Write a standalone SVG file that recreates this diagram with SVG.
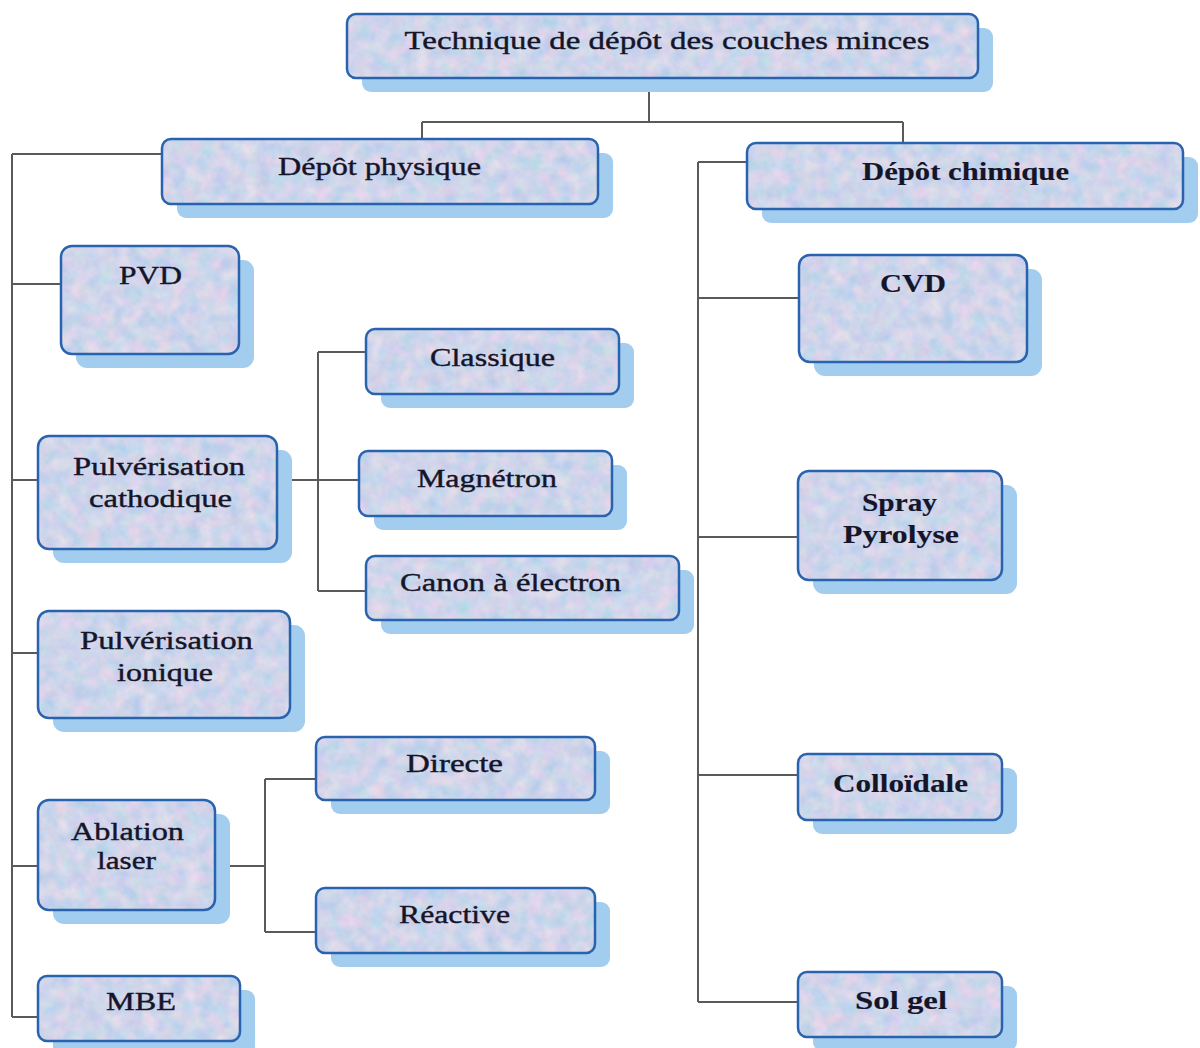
<svg xmlns="http://www.w3.org/2000/svg" width="1200" height="1048" viewBox="0 0 1200 1048">
<style>
.sh{fill:#a3cdef;}
.bg{fill:#cdd9ee;filter:url(#tex);}
.bd{fill:none;stroke:#2a63ad;stroke-width:2.5;}
.t{font-family:"Liberation Serif","Times New Roman",serif;font-size:26px;fill:#15152a;stroke:#15152a;stroke-width:0.4;text-anchor:middle;}
.tb{font-weight:bold;stroke-width:0.15;}
.c{fill:none;stroke:#5a5a5a;stroke-width:2;}
</style>
<defs>
<filter id="tex" x="0" y="0" width="100%" height="100%" color-interpolation-filters="sRGB">
<feTurbulence type="fractalNoise" baseFrequency="0.07" numOctaves="3" seed="7" result="n"/>
<feColorMatrix in="n" type="matrix" values="0.3 0 0 0 0.66  0.05 0.1 0 0 0.76  0 0 0.06 0 0.89  0 0 0 0 1" result="c"/>
<feComposite in="c" in2="SourceGraphic" operator="in"/>
</filter>
</defs>
<rect width="1200" height="1048" fill="#ffffff"/>
<g id="connectors">
<path class="c" d="M649 78V122M422 122H903M422 122V139M903 122V143"/>
<path class="c" d="M12 154V1017M12 154H162M12 284H61M12 480H38M12 653H38M12 866H38M12 1017H38"/>
<path class="c" d="M277 480H359M318 352V591M318 352H366M318 591H366"/>
<path class="c" d="M215 866H265M265 779V932M265 779H316M265 932H316"/>
<path class="c" d="M698 162V1002M698 162H747M698 298H799M698 537H798M698 775H798M698 1002H798"/>
</g>
<g id="root">
<rect class="sh" x="362" y="28" width="631" height="64" rx="9"/>
<rect class="bg" x="347" y="14" width="631" height="64" rx="9"/>
<rect class="bd" x="347" y="14" width="631" height="64" rx="9"/>
<text class="t" x="667" y="49" textLength="525" lengthAdjust="spacingAndGlyphs">Technique de dépôt des couches minces</text>
</g>
<g id="physique">
<rect class="sh" x="177" y="153" width="436" height="65" rx="9"/>
<rect class="bg" x="162" y="139" width="436" height="65" rx="9"/>
<rect class="bd" x="162" y="139" width="436" height="65" rx="9"/>
<text class="t" x="379.5" y="175" textLength="203" lengthAdjust="spacingAndGlyphs">Dépôt physique</text>
</g>
<g id="chimique">
<rect class="sh" x="762" y="157" width="436" height="66" rx="9"/>
<rect class="bg" x="747" y="143" width="436" height="66" rx="9"/>
<rect class="bd" x="747" y="143" width="436" height="66" rx="9"/>
<text class="t tb" x="965.5" y="180" textLength="207" lengthAdjust="spacingAndGlyphs">Dépôt chimique</text>
</g>
<g id="pvd">
<rect class="sh" x="76" y="260" width="178" height="108" rx="11"/>
<rect class="bg" x="61" y="246" width="178" height="108" rx="11"/>
<rect class="bd" x="61" y="246" width="178" height="108" rx="11"/>
<text class="t" x="150.5" y="284" textLength="63" lengthAdjust="spacingAndGlyphs">PVD</text>
</g>
<g id="classique">
<rect class="sh" x="381" y="343" width="253" height="65" rx="9"/>
<rect class="bg" x="366" y="329" width="253" height="65" rx="9"/>
<rect class="bd" x="366" y="329" width="253" height="65" rx="9"/>
<text class="t" x="492.5" y="366" textLength="125" lengthAdjust="spacingAndGlyphs">Classique</text>
</g>
<g id="pulv_cathodique">
<rect class="sh" x="53" y="450" width="239" height="113" rx="11"/>
<rect class="bg" x="38" y="436" width="239" height="113" rx="11"/>
<rect class="bd" x="38" y="436" width="239" height="113" rx="11"/>
<text class="t" x="159" y="475" textLength="172" lengthAdjust="spacingAndGlyphs">Pulvérisation</text>
<text class="t" x="160.5" y="507" textLength="143" lengthAdjust="spacingAndGlyphs">cathodique</text>
</g>
<g id="magnetron">
<rect class="sh" x="374" y="465" width="253" height="65" rx="9"/>
<rect class="bg" x="359" y="451" width="253" height="65" rx="9"/>
<rect class="bd" x="359" y="451" width="253" height="65" rx="9"/>
<text class="t" x="487" y="487" textLength="140" lengthAdjust="spacingAndGlyphs">Magnétron</text>
</g>
<g id="canon">
<rect class="sh" x="381" y="570" width="313" height="64" rx="9"/>
<rect class="bg" x="366" y="556" width="313" height="64" rx="9"/>
<rect class="bd" x="366" y="556" width="313" height="64" rx="9"/>
<text class="t" x="510.5" y="591" textLength="221" lengthAdjust="spacingAndGlyphs">Canon à électron</text>
</g>
<g id="pulv_ionique">
<rect class="sh" x="53" y="625" width="252" height="107" rx="11"/>
<rect class="bg" x="38" y="611" width="252" height="107" rx="11"/>
<rect class="bd" x="38" y="611" width="252" height="107" rx="11"/>
<text class="t" x="166.5" y="649" textLength="173" lengthAdjust="spacingAndGlyphs">Pulvérisation</text>
<text class="t" x="165" y="681" textLength="96" lengthAdjust="spacingAndGlyphs">ionique</text>
</g>
<g id="directe">
<rect class="sh" x="331" y="751" width="279" height="63" rx="9"/>
<rect class="bg" x="316" y="737" width="279" height="63" rx="9"/>
<rect class="bd" x="316" y="737" width="279" height="63" rx="9"/>
<text class="t" x="454.5" y="772" textLength="97" lengthAdjust="spacingAndGlyphs">Directe</text>
</g>
<g id="ablation">
<rect class="sh" x="53" y="814" width="177" height="110" rx="11"/>
<rect class="bg" x="38" y="800" width="177" height="110" rx="11"/>
<rect class="bd" x="38" y="800" width="177" height="110" rx="11"/>
<text class="t" x="127.5" y="840" textLength="113" lengthAdjust="spacingAndGlyphs">Ablation</text>
<text class="t" x="126.5" y="869" textLength="59" lengthAdjust="spacingAndGlyphs">laser</text>
</g>
<g id="reactive">
<rect class="sh" x="331" y="902" width="279" height="65" rx="9"/>
<rect class="bg" x="316" y="888" width="279" height="65" rx="9"/>
<rect class="bd" x="316" y="888" width="279" height="65" rx="9"/>
<text class="t" x="454.5" y="923" textLength="111" lengthAdjust="spacingAndGlyphs">Réactive</text>
</g>
<g id="mbe">
<rect class="sh" x="53" y="990" width="202" height="65" rx="9"/>
<rect class="bg" x="38" y="976" width="202" height="65" rx="9"/>
<rect class="bd" x="38" y="976" width="202" height="65" rx="9"/>
<text class="t" x="141" y="1010" textLength="70" lengthAdjust="spacingAndGlyphs">MBE</text>
</g>
<g id="cvd">
<rect class="sh" x="814" y="269" width="228" height="107" rx="11"/>
<rect class="bg" x="799" y="255" width="228" height="107" rx="11"/>
<rect class="bd" x="799" y="255" width="228" height="107" rx="11"/>
<text class="t tb" x="913" y="292" textLength="66" lengthAdjust="spacingAndGlyphs">CVD</text>
</g>
<g id="spray">
<rect class="sh" x="813" y="485" width="204" height="109" rx="11"/>
<rect class="bg" x="798" y="471" width="204" height="109" rx="11"/>
<rect class="bd" x="798" y="471" width="204" height="109" rx="11"/>
<text class="t tb" x="899.5" y="511" textLength="75" lengthAdjust="spacingAndGlyphs">Spray</text>
<text class="t tb" x="901" y="543" textLength="116" lengthAdjust="spacingAndGlyphs">Pyrolyse</text>
</g>
<g id="colloidale">
<rect class="sh" x="813" y="768" width="204" height="66" rx="9"/>
<rect class="bg" x="798" y="754" width="204" height="66" rx="9"/>
<rect class="bd" x="798" y="754" width="204" height="66" rx="9"/>
<text class="t tb" x="900.5" y="792" textLength="135" lengthAdjust="spacingAndGlyphs">Colloïdale</text>
</g>
<g id="solgel">
<rect class="sh" x="813" y="986" width="204" height="65" rx="9"/>
<rect class="bg" x="798" y="972" width="204" height="65" rx="9"/>
<rect class="bd" x="798" y="972" width="204" height="65" rx="9"/>
<text class="t tb" x="901" y="1009" textLength="92" lengthAdjust="spacingAndGlyphs">Sol gel</text>
</g>
</svg>
